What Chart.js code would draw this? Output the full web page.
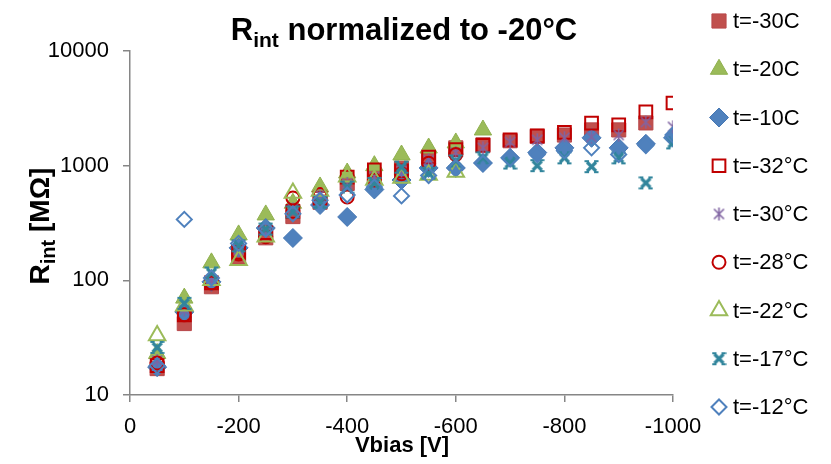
<!DOCTYPE html>
<html>
<head>
<meta charset="utf-8">
<script src="https://cdn.jsdelivr.net/npm/chart.js@4/dist/chart.umd.min.js"></script>
<style>
  html, body { margin: 0; padding: 0; background: #fff; }
  #wrap { width: 831px; height: 464px; }
</style>
</head>
<body>
<div id="wrap"><canvas id="chart" width="831" height="464"></canvas></div>
<script>
// bias voltage (V)
const vbias = [-50, -100, -150, -200, -250, -300, -350, -400, -450, -500,
  -550, -600, -650, -700, -750, -800, -850, -900, -950, -1000]

// Rint [MOhm] per temperature
const rM30C = [17, 42, 88, 160, 235, 360, 480, 700, 820, 950, 1150, 1430, 1520, 1650, 1800, 1850, 2050, 2050, 2360, null]
const rM20C = [23, 70, 142, 249, 372, 470, 652, 863, 1000, 1239, 1426, 1578, 2047, null, null, null, null, null, null, null]
const rM10C = [17.5, 53, 97, 192, 286, 234, 454, 357, 620, 750, 955, 955, 1055, 1170, 1300, 1430, 1750, 1430, 1550, 1750]
const rM32 = [18, 50, 95, 175, 260, 400, 520, 795, 917, 900, 1190, 1380, 1500, 1675, 1815, 1950, 2355, 2270, 2940, 3520]
const rM30 = [20, 55, 100, 185, 270, 420, 560, 700, 800, 900, 1120, 1300, 1430, 1610, 1680, 1750, 1780, 1850, 2400, 2180]
const rM28 = [19, 50, 95, 170, 240, 523, 560, 533, 750, 850, 1050, 1250, null, null, null, null, null, null, null, null]
const rM22 = [33, 60, 100, 150, 240, 578, 600, 800, 750, 780, 830, 880, null, null, null, null, null, null, null, null]
const rM17 = [26, 63, 116, 200, 280, 395, 480, 650, 700, 970, 860, 1100, 1170, 1055, 1000, 1170, 980, 1170, 707, 1580]
const rM12 = [18, 340, 105, 210, 280, 380, 500, 555, 650, 545, 820, 960, 1050, 1150, 1250, 1350, 1430, 1250, 1500, 1850]

const seriesNames = ['t=-30C', 't=-20C', 't=-10C', 't=-32°C', 't=-30°C', 't=-28°C', 't=-22°C', 't=-17°C', 't=-12°C']
const yTicks = [10, 100, 1000, 10000]

const FONT = "'Liberation Sans', Arial, sans-serif"

// asterisk marker (x with a vertical bar)
const starImg = document.createElement('canvas')
starImg.width = 15; starImg.height = 15
;(() => {
  const c = starImg.getContext('2d')
  c.strokeStyle = '#8064A2'; c.lineWidth = 1.6
  c.beginPath()
  c.moveTo(2.5, 2.5); c.lineTo(12.5, 12.5)
  c.moveTo(12.5, 2.5); c.lineTo(2.5, 12.5)
  c.moveTo(7.5, 1); c.lineTo(7.5, 14)
  c.stroke()
})()

// bold x with little bars at its ends
const xImg = document.createElement('canvas')
xImg.width = 15; xImg.height = 15
;(() => {
  const c = xImg.getContext('2d')
  c.strokeStyle = '#31859C'; c.lineWidth = 3.2
  c.beginPath()
  c.moveTo(3, 3); c.lineTo(12, 12)
  c.moveTo(12, 3); c.lineTo(3, 12)
  c.stroke()
  c.lineWidth = 2
  c.beginPath()
  c.moveTo(0.5, 2); c.lineTo(5, 2)
  c.moveTo(10, 2); c.lineTo(14.5, 2)
  c.moveTo(0.5, 13); c.lineTo(5, 13)
  c.moveTo(10, 13); c.lineTo(14.5, 13)
  c.stroke()
})()

const styles = [
  { pointStyle: 'rect', radius: 10, bg: '#C0504D', border: '#B8474A', bw: 1 },
  { pointStyle: 'triangle', radius: 10, bg: '#9BBB59', border: '#8FB04E', bw: 1 },
  { pointStyle: 'rectRot', radius: 9.5, bg: '#4F81BD', border: '#4677B3', bw: 1 },
  { pointStyle: 'rect', radius: 9, bg: 'rgba(0,0,0,0)', border: '#C00000', bw: 2 },
  { pointStyle: starImg, radius: 7, bg: '#8064A2', border: '#8064A2', bw: 1 },
  { pointStyle: 'circle', radius: 6.5, bg: 'rgba(0,0,0,0)', border: '#C00000', bw: 2 },
  { pointStyle: 'triangle', radius: 9.5, bg: 'rgba(0,0,0,0)', border: '#9BBB59', bw: 2 },
  { pointStyle: xImg, radius: 7, bg: '#31859C', border: '#31859C', bw: 1 },
  { pointStyle: 'rectRot', radius: 7.5, bg: 'rgba(0,0,0,0)', border: '#4F81BD', bw: 2 }
]

const allSeries = [rM30C, rM20C, rM10C, rM32, rM30, rM28, rM22, rM17, rM12]

const toPoints = (vals) => {
  const pts = []
  vals.forEach((v, i) => {
    if (v !== null) pts.push({ x: vbias[i], y: v })
  })
  return pts
}

const datasets = allSeries.map((vals, i) => ({
  label: seriesNames[i],
  data: toPoints(vals),
  showLine: false,
  pointStyle: styles[i].pointStyle,
  pointRadius: styles[i].radius,
  pointHoverRadius: styles[i].radius,
  pointBackgroundColor: styles[i].bg,
  pointBorderColor: styles[i].border,
  pointBorderWidth: styles[i].bw,
  order: allSeries.length - i // excel draws later series on top
}))

// draws text with a subscript part: [main, sub, rest]
const drawSubText = (ctx, parts, size, subSize, x, y, align) => {
  ctx.font = `bold ${size}px ${FONT}`
  const w1 = ctx.measureText(parts[0]).width
  const w3 = ctx.measureText(parts[2]).width
  ctx.font = `bold ${subSize}px ${FONT}`
  const w2 = ctx.measureText(parts[1]).width
  const total = w1 + w2 + w3
  let sx = align === 'center' ? x - total / 2 : x
  ctx.textAlign = 'left'
  ctx.textBaseline = 'alphabetic'
  ctx.font = `bold ${size}px ${FONT}`
  ctx.fillText(parts[0], sx, y)
  ctx.font = `bold ${subSize}px ${FONT}`
  ctx.fillText(parts[1], sx + w1, y + size * 0.22)
  ctx.font = `bold ${size}px ${FONT}`
  ctx.fillText(parts[2], sx + w1 + w2, y)
}

const decorPlugin = {
  id: 'decor',
  afterDraw(chart) {
    const ctx = chart.ctx
    ctx.save()
    ctx.fillStyle = '#000'

    // title
    drawSubText(ctx, ['R', 'int', ' normalized to -20°C'], 31, 21, 404, 40, 'center')

    // y axis title
    ctx.save()
    ctx.translate(49, 226)
    ctx.rotate(-Math.PI / 2)
    drawSubText(ctx, ['R', 'int', ' [MΩ]'], 28, 20, 0, 0, 'center')
    ctx.restore()

    // x axis title
    ctx.font = `bold 22px ${FONT}`
    ctx.textAlign = 'center'
    ctx.textBaseline = 'middle'
    ctx.fillText('Vbias [V]', 402, 446)

    // legend
    const drawPoint = Chart.helpers.drawPoint
    seriesNames.forEach((name, i) => {
      const y = 21 + i * 48.25
      const s = styles[i]
      ctx.fillStyle = s.bg
      ctx.strokeStyle = s.border
      ctx.lineWidth = s.bw
      drawPoint(ctx, { pointStyle: s.pointStyle, rotation: 0, radius: s.radius, borderWidth: s.bw }, 719, y)
      ctx.fillStyle = '#000'
      ctx.font = `22px ${FONT}`
      ctx.textAlign = 'left'
      ctx.textBaseline = 'middle'
      ctx.fillText(name, 733, y + 1)
    })
    ctx.restore()
  }
}

new Chart(document.getElementById('chart'), {
  type: 'scatter',
  data: { datasets: datasets },
  plugins: [decorPlugin],
  options: {
    responsive: false,
    animation: false,
    devicePixelRatio: 1,
    layout: { padding: { left: 0, right: 158, top: 51, bottom: 0 } },
    plugins: {
      legend: { display: false },
      tooltip: { enabled: false },
      title: { display: false }
    },
    scales: {
      x: {
        type: 'linear',
        min: -1000,
        max: 0,
        reverse: true,
        afterFit: (scale) => { scale.height = 69 },
        ticks: {
          stepSize: 200,
          color: '#000',
          padding: 12,
          font: { family: FONT, size: 22 },
          callback: (v) => String(v)
        },
        grid: { drawOnChartArea: false, drawTicks: true, tickLength: 7, color: '#868686', lineWidth: 1.5 },
        border: { color: '#868686', width: 1.5 }
      },
      y: {
        type: 'logarithmic',
        min: 10,
        max: 10000,
        afterFit: (scale) => { scale.width = 130 },
        afterBuildTicks: (scale) => { scale.ticks = yTicks.map(v => ({ value: v })) },
        ticks: {
          color: '#000',
          padding: 14,
          font: { family: FONT, size: 22 },
          callback: (v) => String(v)
        },
        grid: { drawOnChartArea: false, drawTicks: true, tickLength: 7, color: '#868686', lineWidth: 1.5 },
        border: { color: '#868686', width: 1.5 }
      }
    }
  }
})
</script>
</body>
</html>
